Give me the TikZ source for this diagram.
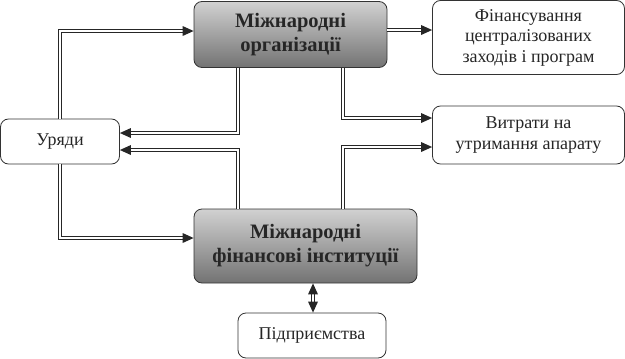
\documentclass[tikz,border=0pt]{standalone}
\usepackage{fontspec}
\setmainfont{Liberation Serif}
\usetikzlibrary{calc}

\begin{document}
\begin{tikzpicture}[x=1pt, y=-1pt,
    box/.style={draw=black!80, line width=0.8pt, rounded corners=8pt, fill=white, align=center,
        inner sep=0pt, font=\fontsize{18}{20.5}\selectfont, text=black!85},
    mainbox/.style={box, top color=black!18, bottom color=black!55, font=\fontsize{20.5}{24}\selectfont\bfseries},
    % double line drawn by hand: dark outer stroke, white inner stroke
    link/.style={draw=white, line width=1.4pt, shorten >=9pt,
        preaction={draw=black!85, line width=3.4pt, shorten >=9pt}},
    bilink/.style={link, shorten <=9pt, preaction={draw=black!85, line width=3.4pt, shorten >=9pt, shorten <=9pt}},
    tipfill/.style={fill=black!85}]
    \useasboundingbox (0,0) rectangle (625,359);

    % Central bodies
    \node[mainbox, minimum width=193pt, minimum height=66pt] (org) at (290.5,34.5) {Міжнародні\\організації};
    \node[mainbox, minimum width=223pt, minimum height=74pt] (inst) at (305.5,246) {Міжнародні\\фінансові інституції};

    % Outer boxes
    \node[box, minimum width=119pt, minimum height=45pt] (gov) at (60,141.5) {Уряди};
    \node[box, minimum width=192pt, minimum height=74pt] (fin) at (528.5,37.5) {Фінансування\\централізованих\\заходів і програм};
    \node[box, minimum width=192pt, minimum height=58pt] (cost) at (528.5,135) {Витрати на\\утримання апарату};
    \node[box, minimum width=148pt, minimum height=45pt] (ent) at (312,335.5) {Підприємства};

    % Governments -> bodies
    \draw[link] (gov.north) |- (org.west |- 0,31);
    \draw[link] (gov.south) |- (inst.west |- 0,238);
    \fill[tipfill] (org.west |- 0,31) -- ++(-11,-5) -- ++(0,10) -- cycle;
    \fill[tipfill] (inst.west |- 0,238) -- ++(-11,-5) -- ++(0,10) -- cycle;

    % Bodies -> governments
    \draw[link] (org.south -| 238,0) |- (gov.east |- 0,133);
    \draw[link] (inst.north -| 238,0) |- (gov.east |- 0,150);
    \foreach \y in {133,150}
        \fill[tipfill] (gov.east |- 0,\y) -- ++(11,-5) -- ++(0,10) -- cycle;

    % Bodies -> expenses
    \draw[link] (org.east |- 0,30) -- (fin.west |- 0,30);
    \draw[link] (org.south -| 343,0) |- (cost.west |- 0,118);
    \draw[link] (inst.north -| 343,0) |- (cost.west |- 0,147);
    \fill[tipfill] (fin.west |- 0,30) -- ++(-11,-5) -- ++(0,10) -- cycle;
    \foreach \y in {118,147}
        \fill[tipfill] (cost.west |- 0,\y) -- ++(-11,-5) -- ++(0,10) -- cycle;

    % Institutions <-> enterprises
    \draw[bilink] (inst.south -| 313,0) -- (ent.north -| 313,0);
    \fill[tipfill] (inst.south -| 313,0) -- ++(-5,11) -- ++(10,0) -- cycle;
    \fill[tipfill] (ent.north -| 313,0) -- ++(-5,-11) -- ++(10,0) -- cycle;
\end{tikzpicture}
\end{document}
